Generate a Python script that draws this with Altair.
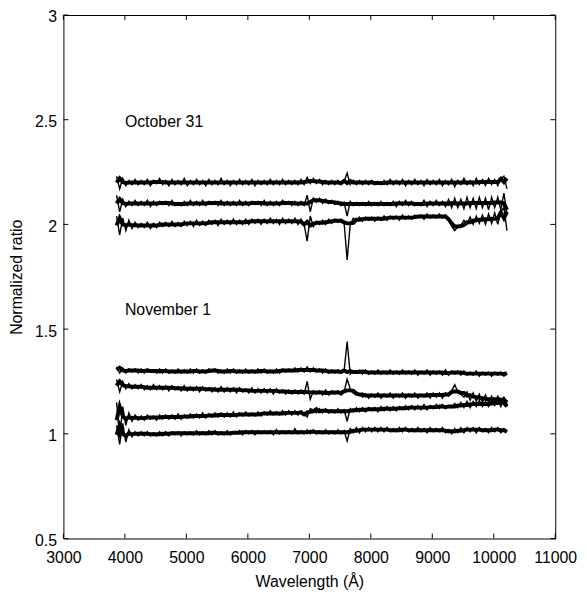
import altair as alt
import pandas as pd

# wavelength grid of the spectra (Angstrom)
WAVE_START = 3865
WAVE_STEP = 50
N_POINTS = 128

OCT31_A = [2.23,2.17,2.22,2.185,2.21,2.19,2.215,2.19,
           2.21,2.19,2.215,2.185,2.21,2.195,2.22,2.19,
           2.21,2.185,2.215,2.19,2.21,2.19,2.22,2.185,
           2.21,2.19,2.215,2.19,2.21,2.185,2.215,2.19,
           2.21,2.19,2.22,2.19,2.21,2.185,2.21,2.19,
           2.215,2.19,2.21,2.19,2.215,2.185,2.21,2.19,
           2.21,2.19,2.215,2.19,2.21,2.19,2.215,2.19,
           2.21,2.19,2.21,2.19,2.215,2.19,2.225,2.195,
           2.22,2.195,2.215,2.19,2.21,2.19,2.21,2.19,
           2.21,2.19,2.205,2.245,2.19,2.21,2.19,2.21,
           2.19,2.21,2.19,2.21,2.19,2.205,2.19,2.21,
           2.19,2.215,2.19,2.21,2.19,2.215,2.185,2.21,
           2.19,2.215,2.19,2.21,2.185,2.215,2.19,2.21,
           2.19,2.215,2.185,2.21,2.19,2.215,2.18,2.21,
           2.19,2.22,2.19,2.21,2.185,2.22,2.19,2.215,
           2.185,2.22,2.19,2.215,2.185,2.22,2.23,2.17]

OCT31_B = [2.14,2.06,2.12,2.085,2.11,2.09,2.115,2.09,
           2.11,2.09,2.115,2.085,2.11,2.09,2.11,2.095,
           2.11,2.09,2.115,2.09,2.105,2.09,2.11,2.09,
           2.115,2.09,2.11,2.09,2.115,2.09,2.11,2.095,
           2.11,2.09,2.115,2.09,2.11,2.09,2.11,2.09,
           2.115,2.09,2.11,2.09,2.11,2.095,2.11,2.09,
           2.115,2.09,2.11,2.09,2.11,2.09,2.115,2.095,
           2.11,2.09,2.11,2.09,2.11,2.09,2.14,2.06,
           2.125,2.105,2.125,2.10,2.12,2.10,2.115,2.095,
           2.11,2.09,2.105,2.04,2.11,2.09,2.105,2.09,
           2.105,2.09,2.11,2.09,2.105,2.09,2.11,2.09,
           2.105,2.09,2.11,2.085,2.11,2.09,2.115,2.09,
           2.11,2.09,2.105,2.09,2.115,2.085,2.11,2.09,
           2.115,2.09,2.11,2.085,2.12,2.08,2.125,2.08,
           2.12,2.075,2.13,2.08,2.125,2.075,2.13,2.08,
           2.125,2.07,2.13,2.08,2.13,2.07,2.15,2.05]

OCT31_C = [2.04,1.95,2.03,1.97,2.02,1.98,2.01,1.985,
           2.005,1.985,2.01,1.98,2.005,1.985,2.01,1.99,
           2.01,1.99,2.015,1.99,2.01,1.99,2.015,1.995,
           2.015,1.99,2.02,1.995,2.015,1.995,2.02,2.00,
           2.02,1.995,2.025,2.00,2.02,2.00,2.025,2.00,
           2.02,2.00,2.025,2.00,2.025,2.005,2.025,2.00,
           2.025,2.005,2.03,2.005,2.025,2.00,2.03,2.005,
           2.025,2.005,2.03,2.00,2.025,2.00,1.92,2.04,
           1.99,2.015,2.00,2.02,2.00,2.025,2.005,2.025,
           2.01,2.025,2.01,1.83,2.00,2.03,2.015,2.035,
           2.015,2.035,2.02,2.035,2.015,2.035,2.02,2.04,
           2.02,2.04,2.025,2.04,2.02,2.045,2.025,2.04,
           2.025,2.045,2.03,2.045,2.025,2.05,2.03,2.045,
           2.03,2.05,2.03,2.045,2.02,1.99,1.97,1.99,
           1.995,2.02,2.00,2.035,2.00,2.04,2.005,2.045,
           2.00,2.05,2.005,2.055,2.00,2.06,2.08,1.97]

NOV1_A = [1.32,1.29,1.315,1.29,1.31,1.295,1.31,1.29,
          1.31,1.29,1.31,1.295,1.305,1.29,1.31,1.29,
          1.31,1.29,1.305,1.29,1.31,1.29,1.305,1.29,
          1.31,1.29,1.31,1.29,1.305,1.29,1.31,1.295,
          1.31,1.29,1.305,1.29,1.31,1.29,1.31,1.29,
          1.305,1.29,1.31,1.29,1.305,1.29,1.31,1.29,
          1.31,1.29,1.305,1.29,1.31,1.29,1.31,1.295,
          1.31,1.295,1.315,1.295,1.315,1.295,1.32,1.295,
          1.315,1.295,1.31,1.29,1.31,1.29,1.305,1.29,
          1.305,1.29,1.30,1.44,1.285,1.30,1.29,1.305,
          1.285,1.305,1.285,1.30,1.285,1.305,1.285,1.30,
          1.285,1.305,1.285,1.30,1.285,1.305,1.285,1.30,
          1.285,1.305,1.28,1.30,1.285,1.305,1.28,1.30,
          1.285,1.30,1.28,1.305,1.28,1.30,1.285,1.30,
          1.28,1.30,1.28,1.295,1.28,1.30,1.275,1.295,
          1.28,1.295,1.275,1.295,1.28,1.295,1.275,1.29]

NOV1_B = [1.26,1.20,1.25,1.215,1.24,1.215,1.235,1.215,
          1.235,1.21,1.23,1.21,1.235,1.21,1.23,1.21,
          1.23,1.205,1.23,1.21,1.225,1.205,1.23,1.205,
          1.225,1.205,1.225,1.20,1.225,1.205,1.22,1.20,
          1.22,1.20,1.225,1.20,1.22,1.20,1.22,1.195,
          1.22,1.20,1.215,1.195,1.22,1.195,1.215,1.195,
          1.215,1.195,1.215,1.19,1.215,1.195,1.21,1.19,
          1.21,1.19,1.21,1.19,1.21,1.19,1.25,1.165,
          1.205,1.19,1.205,1.185,1.21,1.185,1.205,1.19,
          1.205,1.185,1.20,1.26,1.215,1.195,1.185,1.19,
          1.175,1.19,1.17,1.19,1.175,1.195,1.17,1.19,
          1.175,1.195,1.17,1.19,1.175,1.195,1.17,1.19,
          1.175,1.195,1.17,1.19,1.175,1.195,1.17,1.195,
          1.175,1.195,1.17,1.195,1.18,1.205,1.235,1.20,
          1.19,1.175,1.20,1.16,1.195,1.155,1.19,1.15,
          1.185,1.15,1.18,1.145,1.18,1.15,1.175,1.145]

NOV1_C = [1.15,0.98,1.13,1.04,1.10,1.06,1.09,1.065,
          1.085,1.065,1.09,1.07,1.085,1.065,1.09,1.07,
          1.09,1.07,1.09,1.07,1.095,1.07,1.09,1.075,
          1.095,1.075,1.095,1.075,1.10,1.075,1.095,1.08,
          1.10,1.08,1.10,1.08,1.10,1.08,1.105,1.08,
          1.10,1.085,1.105,1.085,1.10,1.085,1.105,1.085,
          1.105,1.09,1.11,1.09,1.105,1.09,1.11,1.09,
          1.11,1.09,1.11,1.09,1.11,1.095,1.08,1.12,
          1.115,1.10,1.12,1.10,1.12,1.10,1.115,1.10,
          1.12,1.10,1.115,1.06,1.12,1.105,1.125,1.105,
          1.125,1.105,1.125,1.11,1.125,1.105,1.13,1.11,
          1.13,1.11,1.13,1.11,1.13,1.115,1.135,1.115,
          1.135,1.115,1.135,1.115,1.14,1.115,1.135,1.12,
          1.14,1.12,1.14,1.12,1.135,1.125,1.145,1.125,
          1.15,1.125,1.155,1.125,1.155,1.13,1.16,1.13,
          1.155,1.13,1.16,1.135,1.165,1.13,1.17,1.13]

NOV1_D = [1.04,0.95,1.05,0.96,1.02,0.985,1.01,0.99,
          1.01,0.99,1.01,0.99,1.005,0.99,1.01,0.99,
          1.01,0.99,1.01,0.995,1.01,0.99,1.01,0.995,
          1.01,0.995,1.015,0.995,1.01,0.995,1.015,0.995,
          1.015,0.995,1.01,0.995,1.015,0.995,1.01,1.00,
          1.015,0.995,1.015,1.00,1.015,0.995,1.015,1.00,
          1.015,1.00,1.015,0.995,1.02,1.00,1.015,1.00,
          1.015,1.00,1.025,1.00,1.015,1.00,1.02,1.00,
          1.02,1.00,1.015,1.00,1.02,1.00,1.015,1.00,
          1.02,1.00,1.015,0.965,1.025,1.005,1.03,1.005,
          1.03,1.01,1.03,1.01,1.03,1.01,1.03,1.01,
          1.03,1.01,1.025,1.01,1.03,1.01,1.03,1.01,
          1.025,1.01,1.03,1.01,1.025,1.005,1.03,1.01,
          1.025,1.01,1.03,1.005,1.02,1.00,1.025,1.005,
          1.03,1.005,1.03,1.01,1.03,1.005,1.03,1.01,
          1.025,1.005,1.03,1.01,1.03,1.005,1.025,1.01]

SERIES = {"oct31_a": OCT31_A, "oct31_b": OCT31_B, "oct31_c": OCT31_C,
          "nov1_a": NOV1_A, "nov1_b": NOV1_B, "nov1_c": NOV1_C, "nov1_d": NOV1_D}

LABEL_TEXT = ["October 31", "November 1"]
LABEL_WAVE = [4000, 4000]
LABEL_RATIO = [2.465, 1.568]

X_TICKS = [3000, 4000, 5000, 6000, 7000, 8000, 9000, 10000, 11000]
Y_TICKS = [0.5, 1.0, 1.5, 2.0, 2.5, 3.0]

wave = [WAVE_START + WAVE_STEP * i for i in range(N_POINTS)]
rows = []
for name, vals in SERIES.items():
    assert len(vals) == N_POINTS, name
    for w, v in zip(wave, vals):
        rows.append({"wave": w, "ratio": v, "series": name})
df = pd.DataFrame(rows)

FONT = "Liberation Sans"
W, H = 497, 529
TL = 5
YTITLE = "Normalized ratio"
XTITLE = "Wavelength (Å)"

xscale = alt.Scale(domain=[3000, 11000], nice=False, zero=False)
yscale = alt.Scale(domain=[0.5, 3], nice=False, zero=False)

xaxis = alt.Axis(values=X_TICKS, format="d", title=XTITLE,
                 labelPadding=11, titlePadding=8, labelFlush=False,
                 labelOverlap=False)
yaxis = alt.Axis(values=Y_TICKS, format="~g", title=YTITLE,
                 labelPadding=7, titlePadding=10, labelOverlap=False,
                 labelOffset=2)

# raw noisy spectrum (thin, shows the jagged edges and the spikes)
lines = alt.Chart(df).mark_line(color="black", strokeWidth=1.4).encode(
    x=alt.X("wave:Q", scale=xscale, axis=xaxis),
    y=alt.Y("ratio:Q", scale=yscale, axis=yaxis),
    detail="series:N",
)

# running median (4 samples) of the same spectrum: solid core of the noisy band
core = alt.Chart(df).transform_window(
    core="median(ratio)", frame=[-2, 1], groupby=["series"],
    sort=[alt.SortField("wave")],
).mark_line(color="black", strokeWidth=4).encode(
    x=alt.X("wave:Q", scale=xscale, title=XTITLE),
    y=alt.Y("core:Q", scale=yscale, title=YTITLE),
    detail="series:N",
)

xt = pd.DataFrame({"wave": X_TICKS})
yt = pd.DataFrame({"ratio": Y_TICKS})

xb = alt.Chart(xt).mark_rule(color="black", strokeWidth=1).encode(
    x="wave:Q", y=alt.value(H), y2=alt.value(H - TL))
xtop = alt.Chart(xt).mark_rule(color="black", strokeWidth=1).encode(
    x="wave:Q", y=alt.value(0), y2=alt.value(TL))
yl = alt.Chart(yt).mark_rule(color="black", strokeWidth=1).encode(
    y="ratio:Q", x=alt.value(0), x2=alt.value(TL))
yr = alt.Chart(yt).mark_rule(color="black", strokeWidth=1).encode(
    y="ratio:Q", x=alt.value(W), x2=alt.value(W - TL))

lab = pd.DataFrame({"wave": LABEL_WAVE, "ratio": LABEL_RATIO, "text": LABEL_TEXT})
labels = alt.Chart(lab).mark_text(align="left", baseline="alphabetic", font=FONT,
                                  fontSize=16, color="black").encode(
    x="wave:Q", y="ratio:Q", text="text:N")

chart = alt.layer(lines, core, xb, xtop, yl, yr, labels).properties(
    width=W, height=H,
    autosize=alt.AutoSizeParams(type="none"),
    padding={"left": 56, "top": 4, "right": 24, "bottom": 55},
).configure_view(stroke="black", strokeWidth=1).configure_axis(
    grid=False, domain=False, ticks=True, tickSize=0,
    labelFont=FONT, labelFontSize=16, labelColor="black",
    titleFont=FONT, titleFontSize=16, titleFontWeight="normal", titleColor="black",
)

chart.save("out.html", embed_options={"renderer": "svg", "actions": False})
